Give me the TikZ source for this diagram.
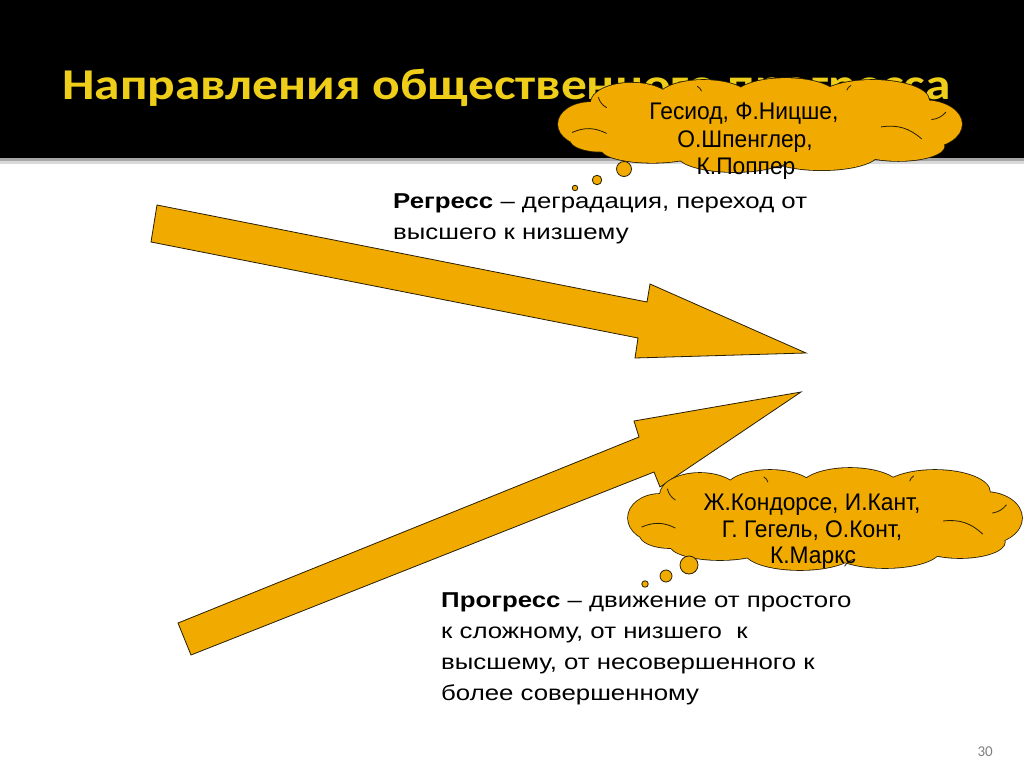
\documentclass[tikz,border=0pt]{standalone}
\usepackage{fontspec}
\setmainfont{Liberation Sans}
\newfontfamily\titlefont[FakeStretch=1.17]{Carlito}
\newfontfamily\pagefont{Carlito}
\newfontfamily\bodyfont[FakeStretch=1.2]{Liberation Sans}
\newfontfamily\cloudfont[FakeStretch=0.95]{Liberation Sans}
\definecolor{gold}{RGB}{240,170,0}
\definecolor{titleyellow}{RGB}{238,206,24}
\definecolor{edge}{RGB}{40,30,0}
\tikzset{
  bigarrow/.style={draw=edge, line width=0.8pt, fill=gold, line join=miter},
  cloudline/.style={draw=edge, line width=0.8pt, line cap=round},
  bubble/.style={circle, draw=edge, line width=0.8pt, fill=gold, inner sep=0pt},
  cloudtext/.style={anchor=base, inner sep=0pt, font=\cloudfont\fontsize{24}{28}\selectfont},
  bodytext/.style={align=left, anchor=north west, font=\bodyfont\fontsize{21.5}{31}\selectfont, inner sep=0pt},
  titletext/.style={anchor=base west, inner sep=0pt, font=\titlefont\bfseries\fontsize{44}{52}\selectfont},
}
\newcommand\mybumps{-0.838/-0.04/0.162/0.48, -0.635/-0.50/0.203/0.44, -0.279/-0.60/0.228/0.40,
  0.127/-0.64/0.254/0.40, 0.558/-0.56/0.279/0.44, 0.812/-0.04/0.188/0.52, 0.685/0.44/0.228/0.32,
  0.305/0.60/0.279/0.36, -0.127/0.64/0.279/0.36, -0.533/0.50/0.254/0.30, -0.787/0.30/0.152/0.26,
  0/0/0.81/0.70}
% #1,#2 centre; #3,#4 half width, half height
\newcommand\mycloud[4]{%
  \foreach \u/\v/\a/\b in \mybumps {
    \pgfmathsetmacro\X{#1+#3*\u}\pgfmathsetmacro\Y{#2+#4*\v}%
    \pgfmathsetmacro\A{#3*\a}\pgfmathsetmacro\B{#4*\b}%
    \draw[draw=edge, line width=1.6pt] (\X,\Y) ellipse [x radius=\A pt, y radius=\B pt];
  }
  \foreach \u/\v/\a/\b in \mybumps {
    \pgfmathsetmacro\X{#1+#3*\u}\pgfmathsetmacro\Y{#2+#4*\v}%
    \pgfmathsetmacro\A{#3*\a}\pgfmathsetmacro\B{#4*\b}%
    \fill[gold] (\X,\Y) ellipse [x radius=\A pt, y radius=\B pt];
  }
  \begin{scope}[shift={(#1,#2)}, x=#3 pt, y=-#4 pt]
    \draw[cloudline] (-0.93,0.14) to[bend left=25] (-0.76,0.16);
    \draw[cloudline] (-0.80,-0.62) to[bend right=20] (-0.76,-0.40);
    \draw[cloudline] (-0.31,-0.86) to[bend left=20] (-0.29,-0.76);
    \draw[cloudline] (0.45,-0.88) to[bend right=20] (0.43,-0.78);
    \draw[cloudline] (0.92,-0.30) to[bend left=20] (0.85,-0.14);
    \draw[cloudline] (0.60,0.02) to[bend left=25] (0.80,0.28);
    \draw[cloudline] (0.10,0.92) to[bend left=20] (0.15,0.78);
  \end{scope}
}
\begin{document}
\begin{tikzpicture}[x=1pt,y=-1pt]
\useasboundingbox (0,0) rectangle (1024,767);
\fill[white] (0,0) rectangle (1024,767);
% title band
\fill[black] (0,0) rectangle (1024,158);
\fill[gray!70] (0,158) rectangle (1024,161);
\fill[gray!30] (0,161) rectangle (1024,164);
% title
\node[titletext, text=titleyellow] (title) at (62,100) {Направления общественного прогресса};
% arrows
\draw[bigarrow] (157,205) -- (647,302) -- (650,284) -- (806,353) -- (635,358) -- (638,338) -- (151,242) -- cycle;
\draw[bigarrow] (178,623) -- (639,437) -- (634,421) -- (801,392) -- (660,487) -- (654,472) -- (191,655) -- cycle;
% upper cloud
\mycloud{760}{126}{202}{46}
\node[bubble, minimum size=15pt] (a1) at (624,169) {};
\node[bubble, minimum size=9.5pt] (a2) at (597,180) {};
\node[bubble, minimum size=5.5pt] (a3) at (575,188) {};
\node[cloudtext] (a-l1) at (744,120) {Гесиод, Ф.Ницше,};
\node[cloudtext] (a-l2) at (745,148) {О.Шпенглер,};
\node[cloudtext] (a-l3) at (746,175) {К.Поппер};
% lower cloud
\mycloud{825}{520}{197}{50}
\node[bubble, minimum size=18pt] (b1) at (689,565) {};
\node[bubble, minimum size=12pt] (b2) at (666,576) {};
\node[bubble, minimum size=6.5pt] (b3) at (645,584) {};
\node[cloudtext] (b-l1) at (812,510) {Ж.Кондорсе, И.Кант,};
\node[cloudtext] (b-l2) at (812,537) {Г. Гегель, О.Конт,};
\node[cloudtext] (b-l3) at (813,563) {К.Маркс};
% texts
\node[bodytext] (regress) at (393,194) {\textbf{Регресс} – деградация, переход от\\высшего к низшему};
\node[bodytext] (progress) at (441,593) {\textbf{Прогресс} – движение от простого\\к сложному, от низшего\ \ к\\высшему, от несовершенного к\\более совершенному};
\node[anchor=base east, inner sep=0pt, text=gray, font=\pagefont\fontsize{15}{18}\selectfont] (page) at (993,756) {30};
\end{tikzpicture}
\end{document}
